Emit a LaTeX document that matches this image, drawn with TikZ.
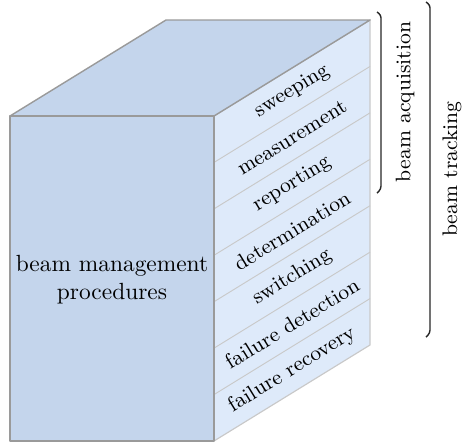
\documentclass[tikz,border=0pt]{standalone}
\usetikzlibrary{positioning}
\definecolor{frontblue}{HTML}{C4D5EC}
\definecolor{sideblue}{HTML}{DEEAFA}
\definecolor{edgegray}{HTML}{9A9A9A}
\definecolor{stripgray}{HTML}{C9C9C9}

\begin{document}
\begin{tikzpicture}[
x=0.4274pt, y=-0.4274pt,
face/.style={draw=edgegray, line width=0.6pt, line join=round},
divider/.style={draw=stripgray, line width=0.4pt},
task/.style={font=\small, rotate=31.6, inner sep=1pt},
bracket/.style={draw=black!85, line width=0.6pt, rounded corners=1.2pt},
phase/.style={font=\small, rotate=90, inner sep=1pt}
]
\useasboundingbox (0,0) rectangle (462,444);

\coordinate (ftl) at (10,116);
\coordinate (ftr) at (214,116);
\coordinate (fbr) at (214,441);
\coordinate (fbl) at (10,441);
\coordinate (btl) at (166,20);
\coordinate (btr) at (370,20);
\coordinate (bbr) at (370,345);

% side face with the task strips
\filldraw[fill=sideblue, draw=stripgray, line width=0.5pt] (ftr) -- (btr) -- (bbr) -- (fbr) -- cycle;
\foreach \k in {1,...,6}
  \draw[divider] (214,{116+46.43*\k}) -- (370,{20+46.43*\k});
\foreach \t [count=\i from 0] in {sweeping, measurement, reporting, determination, switching, failure detection, failure recovery}
  \node[task] (task\i) at (292,{68+46.43*(\i+0.5)}) {\t};

% front and top faces
\filldraw[face, fill=frontblue] (ftl) -- (btl) -- (btr) -- (ftr) -- cycle;
\filldraw[face, fill=frontblue] (ftl) -- (ftr) -- (fbr) -- (fbl) -- cycle;
\node[align=center] (bmp) at (112,280) {beam management\\procedures};

% brackets
\coordinate (acqtop) at (381,15);
\coordinate (acqbot) at (381,189);
\coordinate (tracktop) at (430,5);
\coordinate (trackbot) at (430,333);
\draw[bracket] (acqtop) ++(-4,-3) -- (acqtop) -- (acqbot) -- ++(-4,4);
\draw[bracket] (tracktop) ++(-4,-3) -- (tracktop) -- (trackbot) -- ++(-4,4);
\node[phase] (acq) at (405,102) {beam acquisition};
\node[phase] (track) at (452,169) {beam tracking};

\end{tikzpicture}
\end{document}
